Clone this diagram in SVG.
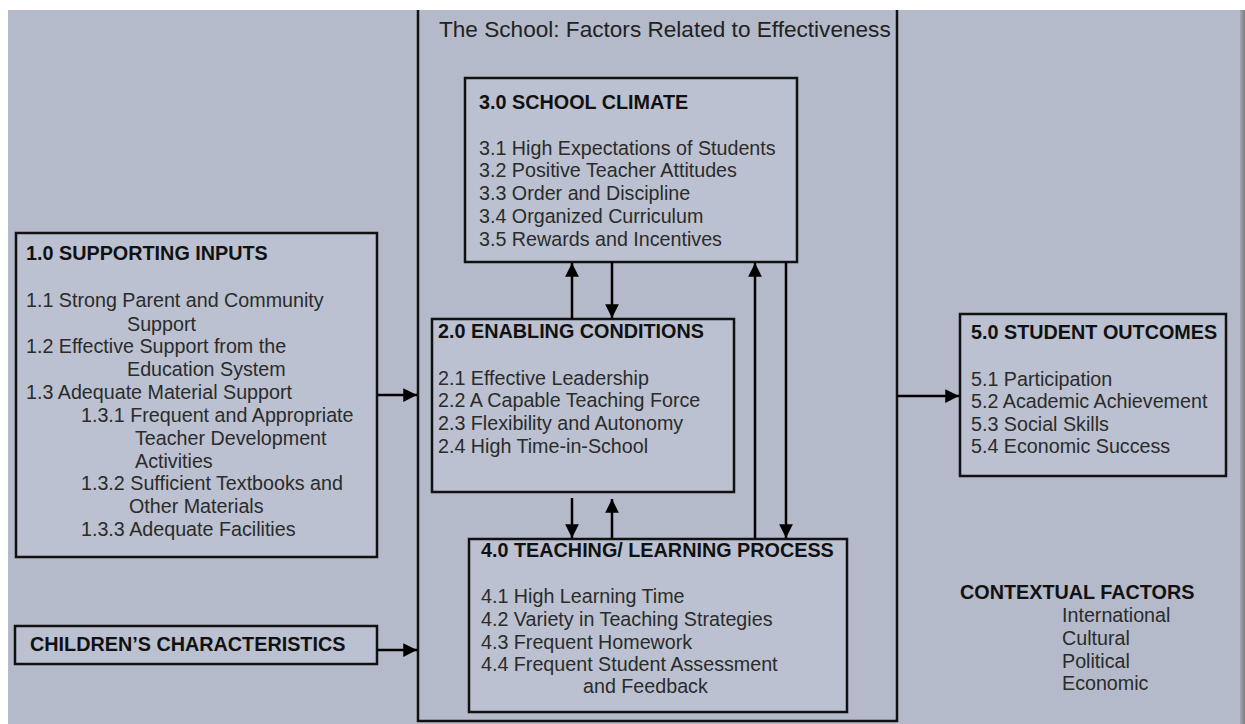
<svg xmlns="http://www.w3.org/2000/svg" width="1245" height="724" viewBox="0 0 1245 724">
<defs>
<marker id="ah" viewBox="0 0 10 10" refX="10" refY="5" markerWidth="5.5" markerHeight="5.5" markerUnits="strokeWidth" orient="auto">
<path d="M0,0 L10,5 L0,10 z" fill="#000"/>
</marker>
<linearGradient id="edge" x1="0" x2="1" y1="0" y2="0">
<stop offset="0" stop-color="#a6a9b0"/>
<stop offset="1" stop-color="#7d7d7d"/>
</linearGradient>
</defs>
<style>
.box{fill:#bbc1d0;stroke:#111;stroke-width:2.5}
.frame{fill:none;stroke:#111;stroke-width:2.5}
.hd{font-family:"Liberation Sans",Arial,sans-serif;font-weight:bold;font-size:19.8px;fill:#111}
.tx{font-family:"Liberation Sans",Arial,sans-serif;font-size:19.7px;fill:#2b2b2b}
.ttl{font-family:"Liberation Sans",Arial,sans-serif;font-size:22.6px;fill:#222}
.con{stroke:#000;stroke-width:2.5;fill:none;marker-end:url(#ah)}
</style>
<rect x="0" y="0" width="1245" height="724" fill="#ffffff"/>
<rect x="8" y="10" width="1237" height="714" fill="#b4bac9"/>
<rect x="1240" y="10" width="5" height="714" fill="url(#edge)"/>

<g id="school">
<path class="frame" d="M418,10 V721 H897 V10"/>
<text class="ttl" x="439" y="37">The School: Factors Related to Effectiveness</text>
</g>

<g id="climate">
<rect class="box" x="465" y="78" width="332" height="184"/>
<text class="hd" x="479" y="109">3.0 SCHOOL CLIMATE</text>
<text class="tx" x="479" y="155">3.1 High Expectations of Students</text>
<text class="tx" x="479" y="177">3.2 Positive Teacher Attitudes</text>
<text class="tx" x="479" y="200">3.3 Order and Discipline</text>
<text class="tx" x="479" y="223">3.4 Organized Curriculum</text>
<text class="tx" x="479" y="246">3.5 Rewards and Incentives</text>
</g>

<g id="enabling">
<rect class="box" x="432" y="319" width="302" height="173"/>
<text class="hd" x="438" y="338">2.0 ENABLING CONDITIONS</text>
<text class="tx" x="438" y="385">2.1 Effective Leadership</text>
<text class="tx" x="438" y="407">2.2 A Capable Teaching Force</text>
<text class="tx" x="438" y="430">2.3 Flexibility and Autonomy</text>
<text class="tx" x="438" y="453">2.4 High Time-in-School</text>
</g>

<g id="teaching">
<rect class="box" x="469" y="539" width="378" height="173"/>
<text class="hd" x="481" y="557">4.0 TEACHING/ LEARNING PROCESS</text>
<text class="tx" x="481" y="603">4.1 High Learning Time</text>
<text class="tx" x="481" y="626">4.2 Variety in Teaching Strategies</text>
<text class="tx" x="481" y="649">4.3 Frequent Homework</text>
<text class="tx" x="481" y="671">4.4 Frequent Student Assessment</text>
<text class="tx" x="583" y="693">and Feedback</text>
</g>

<g id="inputs">
<rect class="box" x="16" y="233" width="361" height="324"/>
<text class="hd" x="26" y="260">1.0 SUPPORTING INPUTS</text>
<text class="tx" x="26" y="307">1.1 Strong Parent and Community</text>
<text class="tx" x="127" y="331">Support</text>
<text class="tx" x="26" y="353">1.2 Effective Support from the</text>
<text class="tx" x="127" y="376">Education System</text>
<text class="tx" x="26" y="399">1.3 Adequate Material Support</text>
<text class="tx" x="81" y="422">1.3.1 Frequent and Appropriate</text>
<text class="tx" x="135" y="445">Teacher Development</text>
<text class="tx" x="135" y="468">Activities</text>
<text class="tx" x="81" y="490">1.3.2 Sufficient Textbooks and</text>
<text class="tx" x="129" y="513">Other Materials</text>
<text class="tx" x="81" y="536">1.3.3 Adequate Facilities</text>
</g>

<g id="children">
<rect class="box" x="15" y="626" width="362" height="38"/>
<text class="hd" x="30" y="651">CHILDREN’S CHARACTERISTICS</text>
</g>

<g id="outcomes">
<rect class="box" x="960" y="314" width="266" height="162"/>
<text class="hd" x="971" y="339">5.0 STUDENT OUTCOMES</text>
<text class="tx" x="971" y="386">5.1 Participation</text>
<text class="tx" x="971" y="408">5.2 Academic Achievement</text>
<text class="tx" x="971" y="431">5.3 Social Skills</text>
<text class="tx" x="971" y="453">5.4 Economic Success</text>
</g>

<g id="contextual">
<text class="hd" x="960" y="599">CONTEXTUAL FACTORS</text>
<text class="tx" x="1062" y="622">International</text>
<text class="tx" x="1062" y="645">Cultural</text>
<text class="tx" x="1062" y="668">Political</text>
<text class="tx" x="1062" y="690">Economic</text>
</g>

<g id="connectors">
<line class="con" x1="377" y1="395" x2="417" y2="395"/>
<line class="con" x1="377" y1="650" x2="417" y2="650"/>
<line class="con" x1="897" y1="396" x2="959" y2="396"/>
<line class="con" x1="572" y1="319" x2="572" y2="263"/>
<line class="con" x1="612" y1="262" x2="612" y2="318"/>
<line class="con" x1="572" y1="498" x2="572" y2="538"/>
<line class="con" x1="612" y1="539" x2="612" y2="499"/>
<line class="con" x1="755" y1="539" x2="755" y2="263"/>
<line class="con" x1="786" y1="262" x2="786" y2="538"/>
</g>
</svg>
